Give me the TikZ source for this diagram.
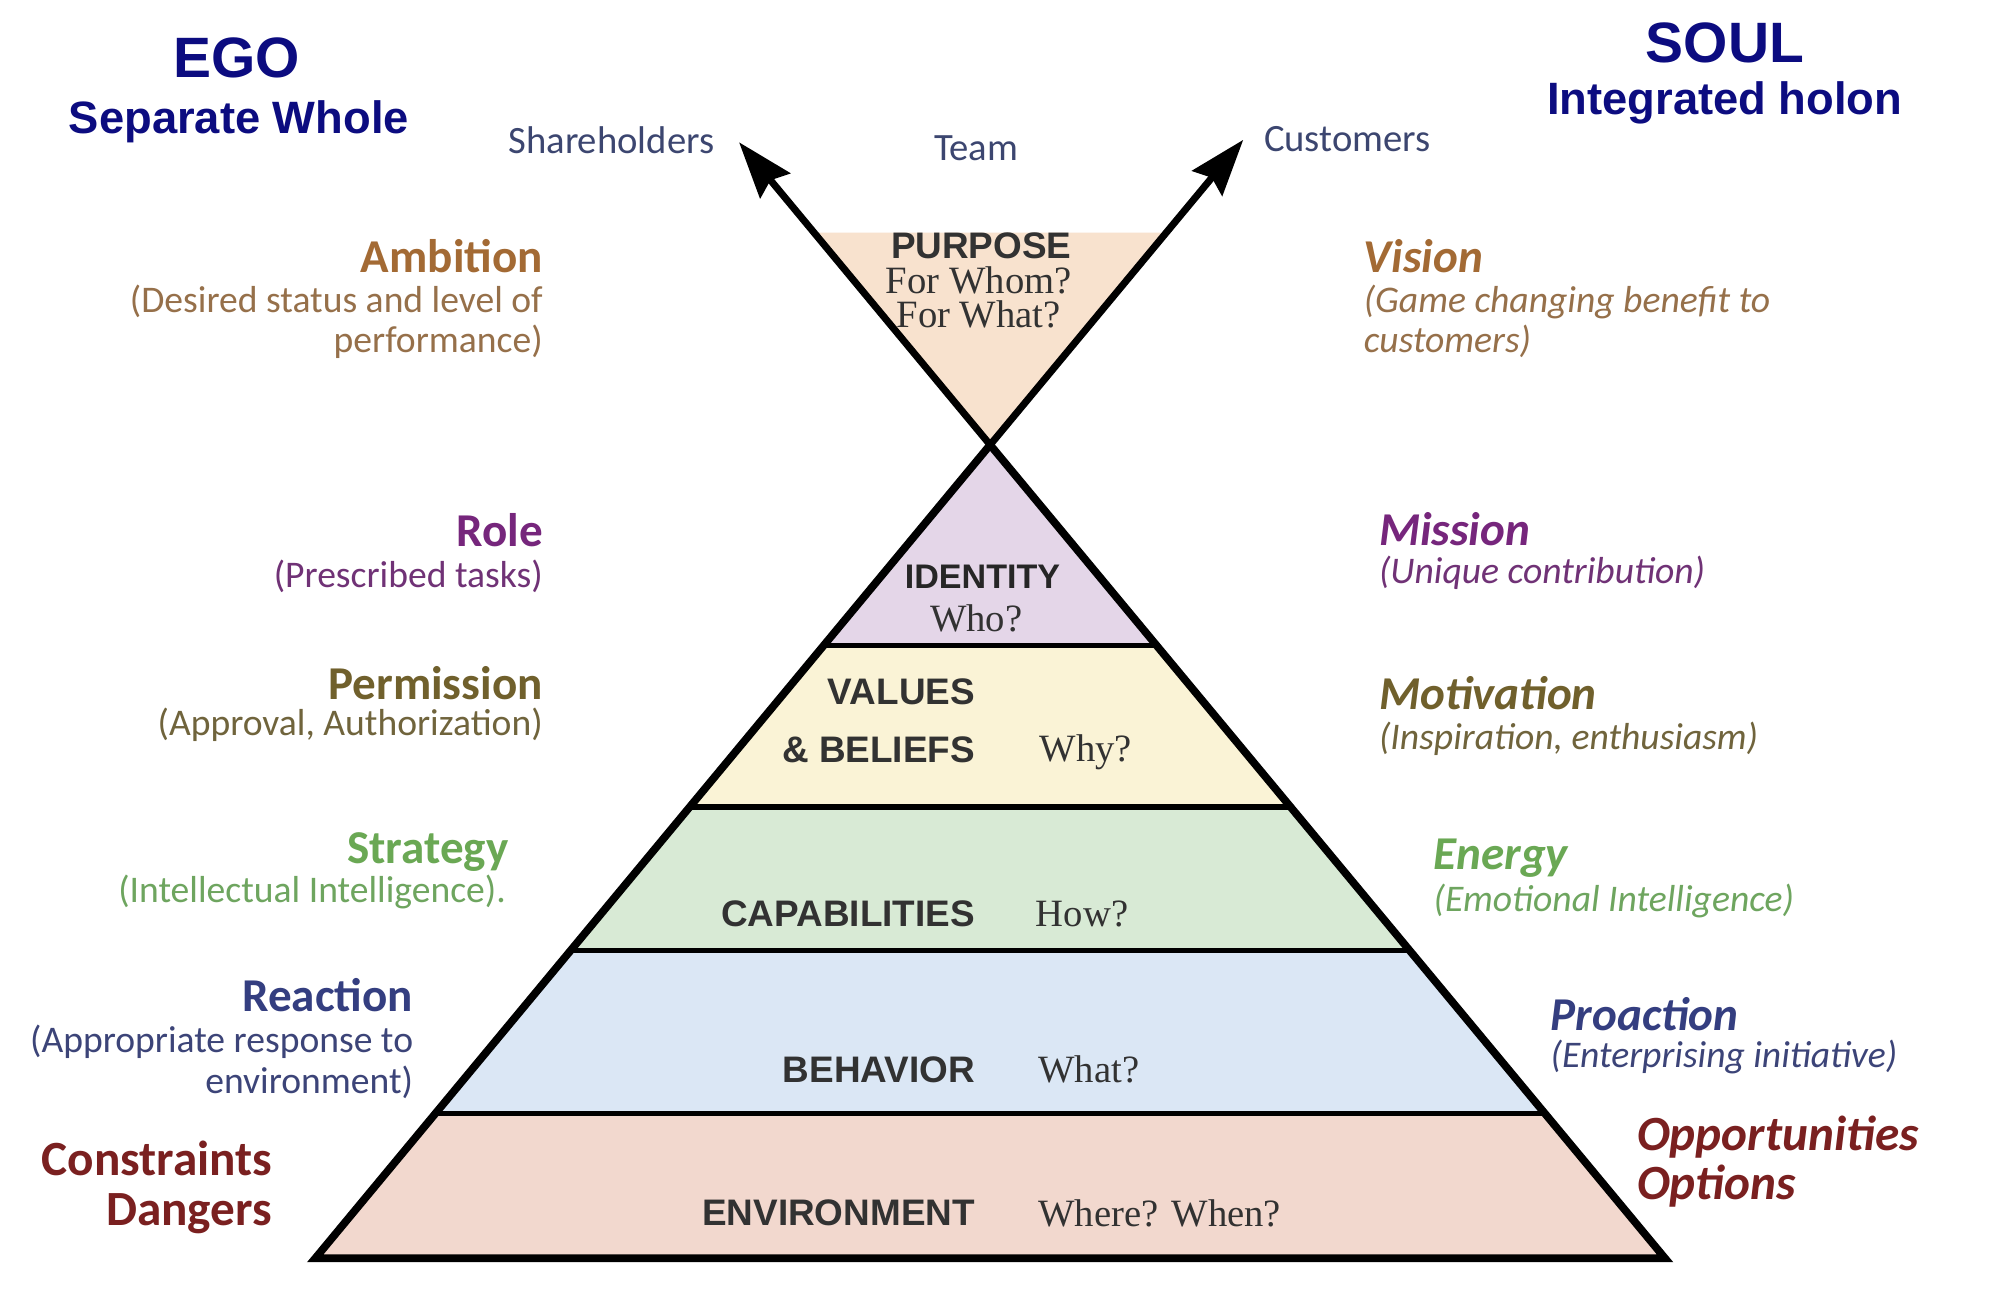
\documentclass[tikz,border=0pt]{standalone}
\usepackage{fontspec}
\setmainfont{Carlito}
\newfontfamily\arialfont{Liberation Sans}
\newfontfamily\timesfont{Liberation Serif}
\usetikzlibrary{calc, positioning, arrows.meta}

\definecolor{egoblue}{RGB}{12,12,128}
\definecolor{stakecol}{RGB}{60,70,112}
\definecolor{ambcol}{RGB}{163,106,52}
\definecolor{ambsub}{RGB}{150,112,74}
\definecolor{rolecol}{RGB}{118,38,124}
\definecolor{rolesub}{RGB}{112,50,118}
\definecolor{permcol}{RGB}{112,96,44}
\definecolor{permsub}{RGB}{112,100,60}
\definecolor{stratcol}{RGB}{106,168,84}
\definecolor{stratsub}{RGB}{110,165,95}
\definecolor{reactcol}{RGB}{52,62,128}
\definecolor{reactsub}{RGB}{60,68,120}
\definecolor{dangcol}{RGB}{122,32,32}
\definecolor{purposefill}{RGB}{248,226,206}
\definecolor{identfill}{RGB}{228,214,232}
\definecolor{valuefill}{RGB}{250,243,214}
\definecolor{capfill}{RGB}{216,234,213}
\definecolor{behavfill}{RGB}{219,231,245}
\definecolor{envfill}{RGB}{242,216,206}
\definecolor{lvltext}{RGB}{50,50,50}

\tikzset{
  every node/.style={inner sep=0pt, outer sep=0pt},
  egohead/.style={font=\arialfont\bfseries\fontsize{16.2}{18}\selectfont, text=egoblue, anchor=base},
  egosub/.style={font=\arialfont\bfseries\fontsize{12.9}{15}\selectfont, text=egoblue, anchor=base},
  stake/.style={font=\fontsize{11}{13}\selectfont, text=stakecol, anchor=base},
  lhead/.style={font=\bfseries\fontsize{13.4}{16}\selectfont, anchor=base east},
  lsub/.style={font=\fontsize{10.7}{11.2}\selectfont, anchor=base east, align=right},
  rhead/.style={font=\bfseries\itshape\fontsize{13.4}{16}\selectfont, anchor=base west},
  rsub/.style={font=\itshape\fontsize{10.7}{11.2}\selectfont, anchor=base west, align=left},
  lvl/.style={font=\arialfont\bfseries\fontsize{10.5}{12}\selectfont, text=lvltext, anchor=base east},
  ask/.style={font=\timesfont\fontsize{11}{13}\selectfont, text=lvltext, anchor=base west},
  bar/.style={line width=1.5pt},
  rim/.style={line width=2.2pt, line join=miter},
  xarrow/.style={line width=2pt, -{Stealth[length=16pt,width=11pt,inset=2pt]}},
}

\begin{document}
\begin{tikzpicture}[x=0.1271mm, y=-0.1271mm]
\useasboundingbox (0,0) rectangle (1568,1031);
\fill[white] (0,0) rectangle (1568,1031);

% pyramid corners
\coordinate (apex) at (779,350);
\coordinate (bl) at (248,990);
\coordinate (br) at (1310,990);
\coordinate (ltip) at ($(br)!1.372!(apex)$);
\coordinate (rtip) at ($(bl)!1.375!(apex)$);
\coordinate (pl) at ($(apex)!-0.2609!(br)$);
\coordinate (pr) at ($(apex)!-0.2609!(bl)$);
\coordinate (l1) at ($(apex)!0.2469!(bl)$);
\coordinate (r1) at ($(apex)!0.2469!(br)$);
\coordinate (l2) at ($(apex)!0.4453!(bl)$);
\coordinate (r2) at ($(apex)!0.4453!(br)$);
\coordinate (l3) at ($(apex)!0.6219!(bl)$);
\coordinate (r3) at ($(apex)!0.6219!(br)$);
\coordinate (l4) at ($(apex)!0.8219!(bl)$);
\coordinate (r4) at ($(apex)!0.8219!(br)$);

% layers
\fill[purposefill] (apex) -- (pl) -- (pr) -- cycle;
\fill[identfill] (apex) -- (l1) -- (r1) -- cycle;
\fill[valuefill] (l1) -- (l2) -- (r2) -- (r1) -- cycle;
\fill[capfill] (l2) -- (l3) -- (r3) -- (r2) -- cycle;
\fill[behavfill] (l3) -- (l4) -- (r4) -- (r3) -- cycle;
\fill[envfill] (l4) -- (bl) -- (br) -- (r4) -- cycle;
\draw[bar] (l1) -- (r1);
\draw[bar] (l2) -- (r2);
\draw[bar] (l3) -- (r3);
\draw[bar] (l4) -- (r4);
\draw[rim] (apex) -- (bl) -- (br) -- cycle;
\draw[xarrow] (apex) -- (ltip);
\draw[xarrow] (apex) -- (rtip);

% headings
\node[egohead] (ego) at (186,61) {EGO};
\node[egosub] (egosub) at (188,105) {Separate Whole};
\node[egohead] (soul) at (1357,49) {SOUL};
\node[egosub] (soulsub) at (1357,90) {Integrated holon};
\node[stake] (shareholders) at (481,121) {Shareholders};
\node[stake] (team) at (768,126) {Team};
\node[stake] (customers) at (1060,119) {Customers};

% levels
\node[lvl, anchor=base] (purpose) at (772,203) {PURPOSE};
\node[ask, anchor=base, align=center, font=\timesfont\fontsize{11}{9.8}\selectfont] (forwhom) at (770,258) {For Whom?\\For What?};
\node[lvl, anchor=base, font=\arialfont\bfseries\fontsize{9.7}{12}\selectfont, text=black!85] (identity) at (773,463) {IDENTITY};
\node[ask, anchor=base] (who) at (768,497) {Who?};
\node[lvl, align=right, font=\arialfont\bfseries\fontsize{10.5}{16.6}\selectfont] (values) at (767,600) {VALUES\\\& BELIEFS};
\node[ask] (why) at (818,599) {Why?};
\node[lvl] (capabilities) at (767,729) {CAPABILITIES};
\node[ask] (how) at (815,729) {How?};
\node[lvl] (behavior) at (767,852) {BEHAVIOR};
\node[ask] (what) at (817,852) {What?};
\node[lvl] (environment) at (767,964) {ENVIRONMENT};
\node[ask] (where) at (817,965) {Where? When?};

% ego side
\node[lhead, text=ambcol] (ambition) at (427,214) {Ambition};
\node[lsub, text=ambsub] (ambitionsub) at (427,277) {(Desired status and level of\\performance)};
\node[lhead, text=rolecol] (role) at (427,430) {Role};
\node[lsub, text=rolesub] (rolesub) at (427,462) {(Prescribed tasks)};
\node[lhead, text=permcol] (permission) at (427,550) {Permission};
\node[lsub, text=permsub] (permsub) at (427,579) {(Approval, Authorization)};
\node[lhead, text=stratcol] (strategy) at (400,679) {Strategy};
\node[lsub, text=stratsub] (strategysub) at (398,710) {(Intellectual Intelligence).};
\node[lhead, text=reactcol] (reaction) at (325,796) {Reaction};
\node[lsub, text=reactsub, font=\fontsize{10.7}{11.6}\selectfont] (reactionsub) at (325,860) {(Appropriate response to\\environment)};
\node[lhead, text=dangcol, align=right, font=\bfseries\fontsize{14}{14.1}\selectfont] (constraints) at (214,964) {Constraints\\Dangers};

% soul side
\node[rhead, text=ambcol] (vision) at (1073,214) {Vision};
\node[rsub, text=ambsub] (visionsub) at (1073,277) {(Game changing benefit to\\customers)};
\node[rhead, text=rolecol] (mission) at (1085,429) {Mission};
\node[rsub, text=rolesub] (missionsub) at (1085,459) {(Unique contribution)};
\node[rhead, text=permcol] (motivation) at (1085,558) {Motivation};
\node[rsub, text=permsub] (motivationsub) at (1085,590) {(Inspiration, enthusiasm)};
\node[rhead, text=stratcol] (energy) at (1128,684) {Energy};
\node[rsub, text=stratsub] (energysub) at (1128,717) {(Emotional Intelligence)};
\node[rhead, text=reactcol] (proaction) at (1220,811) {Proaction};
\node[rsub, text=reactsub] (proactionsub) at (1220,840) {(Enterprising initiative)};
\node[rhead, text=dangcol, align=left, font=\bfseries\itshape\fontsize{14}{14.1}\selectfont] (opportunities) at (1288,944) {Opportunities\\Options};
\end{tikzpicture}
\end{document}
